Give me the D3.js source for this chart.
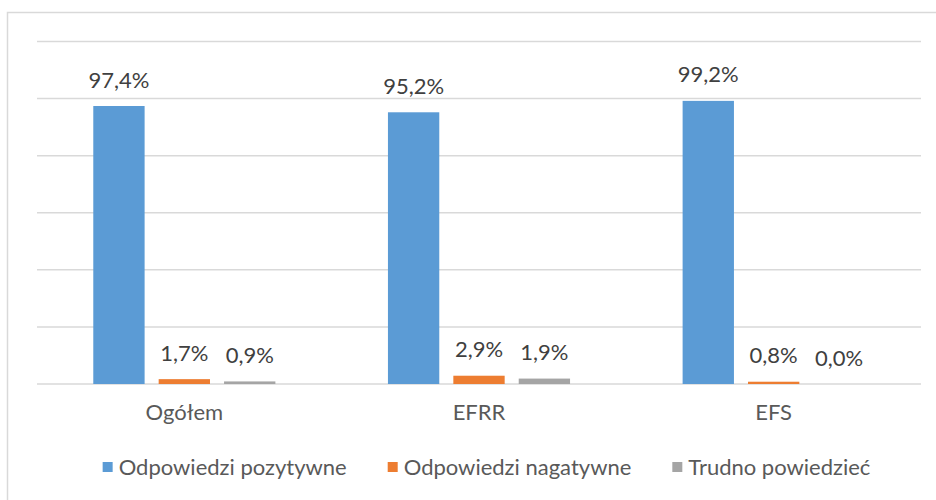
<!DOCTYPE html>
<html>
<head>
<meta charset="utf-8">
<style>
  body { margin: 0; background: #fff; }
  svg { display: block; font-family: Lato, "Open Sans", sans-serif; }
</style>
</head>
<body>
<svg id="chart" width="936" height="500"></svg>
<script src="https://cdn.jsdelivr.net/npm/d3@7"></script>
<script>
// categories and series
var categories = ['Ogółem', 'EFRR', 'EFS'];
var seriesNames = ['Odpowiedzi pozytywne', 'Odpowiedzi nagatywne', 'Trudno powiedzieć'];
var positive = [97.4, 95.2, 99.2];
var negative = [1.7, 2.9, 0.8];
var hardToSay = [0.9, 1.9, 0.0];
var gridTicks = [0, 20, 40, 60, 80, 100, 120];
var colors = ['#5B9BD5', '#ED7D31', '#A5A5A5'];

var seriesValues = [positive, negative, hardToSay];
var data = categories.map(function (c, i) {
  return { cat: c, vals: seriesNames.map(function (s, j) { return { s: s, j: j, v: seriesValues[j][i] } }) }
});

var svg = d3.select('#chart');

// outer frame (cut off on right and bottom)
svg.append('path')
  .attr('d', 'M7.5,510 V12.5 H950')
  .attr('fill', 'none')
  .attr('stroke', '#D9D9D9')
  .attr('stroke-width', 1.5);

var x0 = d3.scaleBand().domain(categories).range([37, 921]).paddingInner(0.382).paddingOuter(0.191);
var x1 = d3.scaleBand().domain(seriesNames).range([0, x0.bandwidth()]).paddingInner(0.215);
var y = d3.scaleLinear().domain([0, 120]).range([384, 41.5]);

// gridlines
svg.append('g')
  .selectAll('line')
  .data(gridTicks)
  .join('line')
  .attr('x1', 37).attr('x2', 921)
  .attr('y1', function (d) { return y(d) }).attr('y2', function (d) { return y(d) })
  .attr('stroke', '#D9D9D9')
  .attr('stroke-width', 1.5);

var groups = svg.append('g')
  .selectAll('g')
  .data(data)
  .join('g')
  .attr('transform', function (d) { return 'translate(' + x0(d.cat) + ',0)' });

groups.selectAll('rect')
  .data(function (d) { return d.vals })
  .join('rect')
  .attr('x', function (d) { return x1(d.s) })
  .attr('width', x1.bandwidth())
  .attr('y', function (d) { return y(d.v) })
  .attr('height', function (d) { return y(0) - y(d.v) })
  .attr('fill', function (d) { return colors[d.j] });

groups.selectAll('text.val')
  .data(function (d) { return d.vals })
  .join('text')
  .attr('class', 'val')
  .attr('x', function (d) { return x1(d.s) + x1.bandwidth() / 2 })
  .attr('y', function (d) { return y(d.v) - 18.5 })
  .attr('text-anchor', 'middle')
  .attr('font-size', 22)
  .attr('fill', '#404040')
  .text(function (d) { return d.v.toFixed(1).replace('.', ',') + '%' });

// category axis labels
var xAxis = d3.axisBottom(x0).tickSize(0).tickPadding(0);
var ax = svg.append('g').attr('transform', 'translate(0,' + 400 + ')').call(xAxis);
ax.select('.domain').remove();
ax.selectAll('text')
  .attr('dy', 0)
  .attr('y', 20)
  .attr('font-family', 'Lato, "Open Sans", sans-serif')
  .attr('font-size', 22)
  .attr('fill', '#595959');

// legend
var legend = svg.append('g');
var items = legend.selectAll('g')
  .data(seriesNames)
  .join('g');
items.append('rect')
  .attr('y', 462).attr('width', 10).attr('height', 10)
  .attr('fill', function (d, i) { return colors[i] });
items.append('text')
  .attr('x', 16).attr('y', 475)
  .attr('font-size', 22)
  .attr('fill', '#595959')
  .text(function (d) { return d });
var offs = 0, widths = [];
items.each(function () { widths.push(this.querySelector('text').getComputedTextLength() + 16) });
var gap = 41;
var total = d3.sum(widths) + gap * (widths.length - 1);
var start = 486.5 - total / 2;
items.attr('transform', function (d, i) {
  var t = 'translate(' + (start + offs) + ',0)';
  offs += widths[i] + gap;
  return t;
});
</script>
</body>
</html>
